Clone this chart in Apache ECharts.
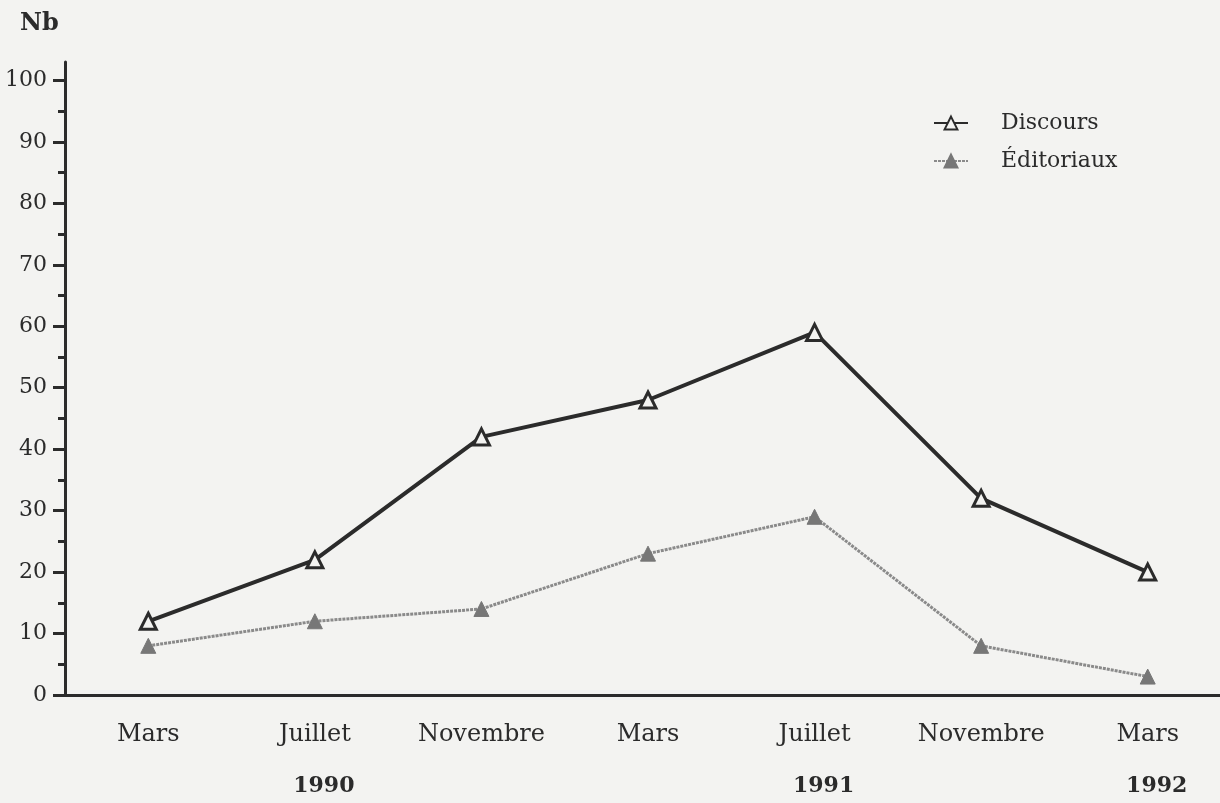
<!DOCTYPE html>
<html>
<head>
<meta charset="utf-8">
<script src="https://cdn.jsdelivr.net/npm/echarts@6/dist/echarts.min.js"></script>
<style>
  html, body { margin: 0; padding: 0; background: #f3f3f1; }
  #chart { width: 1220px; height: 803px; }
</style>
</head>
<body>
<div id="chart"></div>
<script>
const months = ['Mars', 'Juillet', 'Novembre', 'Mars', 'Juillet', 'Novembre', 'Mars']
const years = ['', '1990', '', '', '1991', '', '1992']
const discours = [12, 22, 42, 48, 59, 32, 20]
const editoriaux = [8, 12, 14, 23, 29, 8, 3]
const majorTicks = [0, 10, 20, 30, 40, 50, 60, 70, 80, 90, 100]
const minorTicks = [5, 15, 25, 35, 45, 55, 65, 75, 85, 95]

const ink = '#2b2b2b'
const font = 'DejaVu Serif'

var chart = echarts.init(document.getElementById('chart'))

var option = {
  backgroundColor: '#f3f3f1',
  animation: false,
  title: {
    text: 'Nb',
    left: 15,
    top: 7,
    textStyle: { fontFamily: font, fontSize: 24, fontWeight: 'bold', color: ink }
  },
  legend: {
    orient: 'vertical',
    left: 928,
    top: 107,
    itemWidth: 34,
    itemHeight: 16,
    itemGap: 16,
    textStyle: { fontFamily: font, fontSize: 22, color: ink, padding: [0, 0, 0, 28] },
    data: ['Discours', 'Éditoriaux']
  },
  // axis runs past the right edge like the scan
  grid: { left: 65, width: 1166, top: 62, height: 633, outerBoundsMode: 'none', containLabel: false },
  xAxis: {
    type: 'category',
    data: months,
    boundaryGap: true,
    axisLine: { lineStyle: { color: ink, width: 3 } },
    axisTick: { alignWithLabel: true, length: 11, lineStyle: { color: ink, width: 3 } },
    axisLabel: {
      margin: 27,
      interval: 0,
      formatter: function (v, i) {
        return years[i] ? '{m|' + v + '}\n{y|' + years[i] + '}' : '{m|' + v + '}'
      },
      rich: {
        m: { fontFamily: font, fontSize: 24, color: ink, lineHeight: 26 },
        y: { fontFamily: font, fontSize: 22, fontWeight: 'bold', color: ink, lineHeight: 76, padding: [0, 0, 0, 18] }
      }
    }
  },
  yAxis: [
    {
      type: 'value',
      min: 0,
      max: 103,
      splitLine: { show: false },
      axisLine: { show: true, lineStyle: { color: ink, width: 3 } },
      axisTick: { show: true, length: 12, customValues: majorTicks, lineStyle: { color: ink, width: 3 } },
      axisLabel: { margin: 18, customValues: majorTicks, fontFamily: font, fontSize: 22, color: ink }
    },
    {
      type: 'value',
      position: 'left',
      min: 0,
      max: 103,
      splitLine: { show: false },
      axisLine: { show: false },
      axisTick: { show: true, length: 7, customValues: minorTicks, lineStyle: { color: ink, width: 3 } },
      axisLabel: { show: false }
    }
  ],
  series: [
    {
      name: 'Discours',
      type: 'line',
      data: discours,
      symbol: 'triangle',
      symbolSize: 16,
      lineStyle: { color: ink, width: 4 },
      itemStyle: { color: '#f3f3f1', borderColor: ink, borderWidth: 3 },
      z: 3
    },
    {
      name: 'Éditoriaux',
      type: 'line',
      data: editoriaux,
      symbol: 'triangle',
      symbolSize: 15,
      lineStyle: { color: '#8a8a8a', width: 3, type: [3, 1] },
      itemStyle: { color: '#777', borderColor: '#777', borderWidth: 1 },
      z: 2
    }
  ]
}

option && chart.setOption(option)
</script>
</body>
</html>
